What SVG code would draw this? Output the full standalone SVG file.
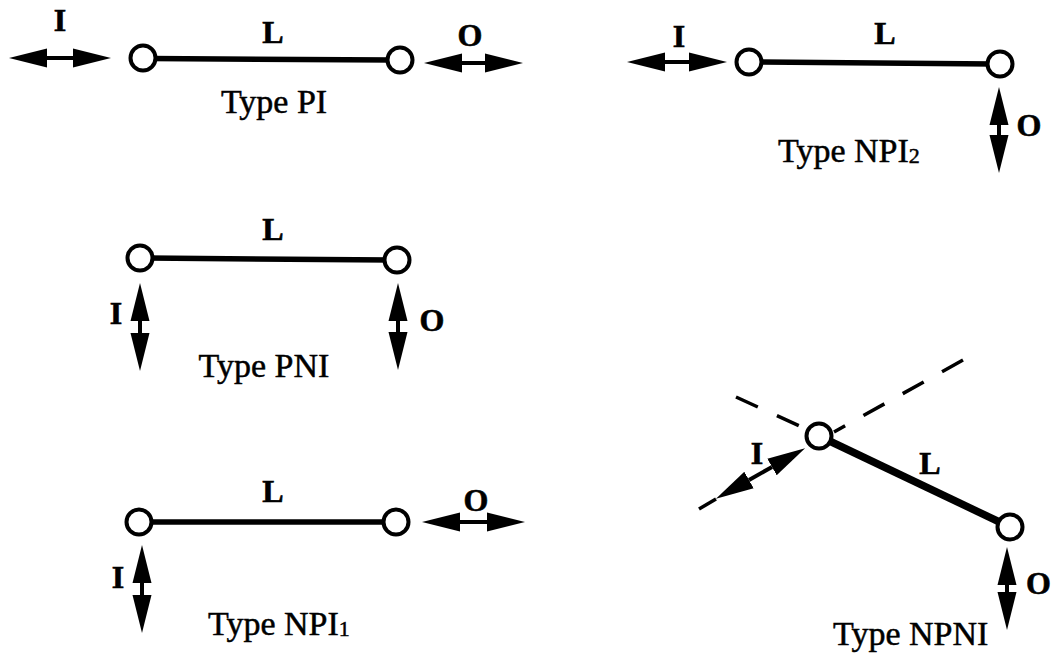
<svg xmlns="http://www.w3.org/2000/svg" width="1051" height="657" viewBox="0 0 1051 657">
<style>
  .bg { fill: #ffffff; }
  .node { fill: #ffffff; stroke: #000000; stroke-width: 4; }
  .link { stroke: #000000; stroke-width: 5.5; fill: none; }
  .thick { stroke: #000000; stroke-width: 7.5; fill: none; }
  .dash { stroke: #000000; stroke-width: 3.5; fill: none; stroke-dasharray: 24 21; }
  .arr { stroke: #000000; stroke-width: 4; fill: none; marker-start: url(#ah); marker-end: url(#ah); }
  .tail { stroke: #000000; stroke-width: 3.5; fill: none; }
  .lab { font-family: "Liberation Serif", "Times New Roman", serif; font-weight: bold; font-size: 32px; fill: #000000; stroke: #000000; stroke-width: 0.6; }
  .cap { font-family: "Liberation Serif", "Times New Roman", serif; font-size: 34px; fill: #000000; stroke: #000000; stroke-width: 0.5; }
</style>
<defs>
  <marker id="ah" markerUnits="userSpaceOnUse" markerWidth="40" markerHeight="22" viewBox="0 -11 40 22" refX="0" refY="0" orient="auto-start-reverse">
    <path d="M0,-9.5 L38,0 L0,9.5 z" fill="#000000" stroke="none"/>
  </marker>
</defs>
<rect class="bg" x="0" y="0" width="1051" height="657"/>

<!-- Type PI -->
<g id="type-pi">
  <g id="pi-connectors">
    <line class="link" x1="150" y1="58.5" x2="392" y2="60"/>
    <line class="arr" x1="47" y1="58" x2="73" y2="58"/>
    <line class="arr" x1="462" y1="63" x2="485" y2="63"/>
  </g>
  <g id="pi-node-a"><circle class="node" cx="143" cy="58" r="12.5"/></g>
  <g id="pi-node-b"><circle class="node" cx="400" cy="60" r="12.5"/></g>
  <text class="lab" x="60" y="31" text-anchor="middle">I</text>
  <text class="lab" x="273" y="43" text-anchor="middle">L</text>
  <text class="lab" x="470" y="46" text-anchor="middle">O</text>
  <text class="cap" x="274" y="113" text-anchor="middle">Type PI</text>
</g>

<!-- Type NPI2 -->
<g id="type-npi2">
  <g id="npi2-connectors">
    <line class="link" x1="756" y1="62" x2="993" y2="64"/>
    <line class="arr" x1="665" y1="62" x2="689" y2="62"/>
    <line class="arr" x1="999" y1="125" x2="999" y2="135"/>
  </g>
  <g id="npi2-node-a"><circle class="node" cx="749" cy="62" r="12.5"/></g>
  <g id="npi2-node-b"><circle class="node" cx="1000" cy="64" r="12.5"/></g>
  <text class="lab" x="679" y="47" text-anchor="middle">I</text>
  <text class="lab" x="885" y="44" text-anchor="middle">L</text>
  <text class="lab" x="1029" y="136" text-anchor="middle">O</text>
  <text class="cap" x="778" y="162">Type NPI<tspan font-size="22" dy="1">2</tspan></text>
</g>

<!-- Type PNI -->
<g id="type-pni">
  <g id="pni-connectors">
    <line class="link" x1="147" y1="258" x2="390" y2="260"/>
    <line class="arr" x1="140" y1="321" x2="140" y2="333"/>
    <line class="arr" x1="398" y1="321" x2="398" y2="332"/>
  </g>
  <g id="pni-node-a"><circle class="node" cx="140" cy="258" r="12.5"/></g>
  <g id="pni-node-b"><circle class="node" cx="397" cy="260" r="12.5"/></g>
  <text class="lab" x="116" y="324" text-anchor="middle">I</text>
  <text class="lab" x="273" y="240" text-anchor="middle">L</text>
  <text class="lab" x="432" y="331" text-anchor="middle">O</text>
  <text class="cap" x="264" y="377" text-anchor="middle">Type PNI</text>
</g>

<!-- Type NPI1 -->
<g id="type-npi1">
  <g id="npi1-connectors">
    <line class="link" x1="146" y1="522" x2="389" y2="522"/>
    <line class="arr" x1="142" y1="583" x2="142" y2="595"/>
    <line class="arr" x1="460" y1="522" x2="487" y2="522"/>
  </g>
  <g id="npi1-node-a"><circle class="node" cx="139" cy="522" r="12.5"/></g>
  <g id="npi1-node-b"><circle class="node" cx="396" cy="522" r="12.5"/></g>
  <text class="lab" x="118" y="588" text-anchor="middle">I</text>
  <text class="lab" x="273" y="502" text-anchor="middle">L</text>
  <text class="lab" x="476" y="511" text-anchor="middle">O</text>
  <text class="cap" x="208" y="635">Type NPI<tspan font-size="22" dy="1">1</tspan></text>
</g>

<!-- Type NPNI -->
<g id="type-npni">
  <g id="npni-connectors">
    <line class="dash" x1="736" y1="397" x2="806" y2="429"/>
    <line class="dash" x1="963" y1="360" x2="834" y2="432"/>
    <line class="thick" x1="819" y1="436" x2="1010" y2="527"/>
    <line class="arr" x1="749" y1="480" x2="772" y2="467"/>
    <line class="tail" x1="716" y1="499" x2="699" y2="509"/>
    <line class="arr" x1="1007" y1="585" x2="1007" y2="592"/>
  </g>
  <g id="npni-node-a"><circle class="node" cx="819" cy="436" r="12.5"/></g>
  <g id="npni-node-b"><circle class="node" cx="1010" cy="527" r="12.5"/></g>
  <text class="lab" x="757" y="464" text-anchor="middle">I</text>
  <text class="lab" x="930" y="474" text-anchor="middle">L</text>
  <text class="lab" x="1026" y="594">O</text>
  <text class="cap" x="833" y="645">Type NPNI</text>
</g>
</svg>
